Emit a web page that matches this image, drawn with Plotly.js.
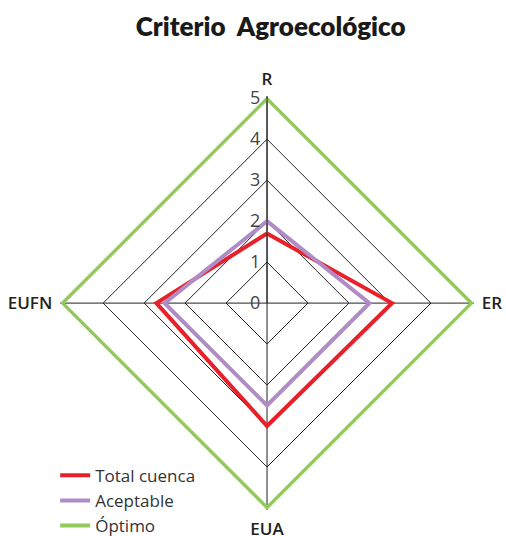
<!DOCTYPE html>
<html>
<head>
<meta charset="utf-8">
<script src="https://cdn.plot.ly/plotly-3.0.1.min.js"></script>
<style>
  html, body { margin: 0; padding: 0; background: #fff; }
  #chart { width: 506px; height: 536px; }
</style>
</head>
<body>
<div id="chart"></div>
<script>
// ejes del radar
let criterios = ["R", "ER", "EUA", "EUFN"];
let totalCuenca = [1.7, 3.05, 3.0, 2.7];
let aceptable = [2.0, 2.5, 2.5, 2.5];
let optimo = [5, 5, 5, 5];
let radialTicks = [0, 1, 2, 3, 4, 5];

function closeLoop(arr)
{
    return arr.concat([arr[0]]);
}

function makeTrace(vals, name, color)
{
    return {
        type: 'scatterpolar',
        mode: 'lines',
        r: closeLoop(vals),
        theta: closeLoop(criterios),
        name: name,
        hoverinfo: 'skip',
        cliponaxis: false,
        line: { color: color, width: 4 }
    };
}

function plotRadar()
{
    let data = [
        makeTrace(totalCuenca, "Total cuenca", "#e8202a"),
        makeTrace(aceptable, "Aceptable", "#b08cc6"),
        makeTrace(optimo, "Óptimo", "#94c95c")
    ];

    let layout = {
        width: 506,
        height: 536,
        margin: { l: 0, r: 0, t: 0, b: 0, autoexpand: false },
        paper_bgcolor: "#fff",
        font: { family: "Open Sans, sans-serif", color: "#333" },
        title: {
            text: "Criterio  Agroecológico",
            x: 0.535, xanchor: "center",
            y: 0.95, yanchor: "middle",
            font: { family: "Lato, sans-serif", size: 26, color: "#1a1a1a", weight: 800 }
        },
        showlegend: true,
        legend: {
            x: 0.109, xanchor: "left",
            y: 0.146, yanchor: "top",
            bgcolor: "rgba(0,0,0,0)",
            font: { family: "Open Sans, sans-serif", size: 17, color: "#333" },
            itemwidth: 30,
            tracegroupgap: 0
        },
        polar: {
            // un poco mas de 5 para que la linea verde no quede recortada
            domain: { x: [0.1186, 0.9368], y: [0.0485, 0.8205] },
            gridshape: "linear",
            bgcolor: "#fff",
            radialaxis: {
                range: [0, 5.05],
                tickvals: radialTicks,
                ticksuffix: "\u00a0\u00a0\u00a0\u00a0\u00a0",
                angle: 90,
                side: "counterclockwise",
                tickangle: 90,
                showline: true,
                linecolor: "#222",
                linewidth: 1,
                gridcolor: "#222",
                gridwidth: 1,
                ticks: "",
                tickfont: { family: "Open Sans, sans-serif", size: 18, color: "#444" }
            },
            angularaxis: {
                rotation: 90,
                direction: "clockwise",
                showline: false,
                gridcolor: "#222",
                gridwidth: 1,
                ticks: "outside",
                ticklen: 4,
                tickcolor: "rgba(0,0,0,0)",
                tickfont: { family: "Open Sans, sans-serif", size: 17, color: "#222", weight: 600 }
            }
        }
    };

    Plotly.newPlot('chart', data, layout, { displayModeBar: false });
}

plotRadar();
</script>
</body>
</html>
